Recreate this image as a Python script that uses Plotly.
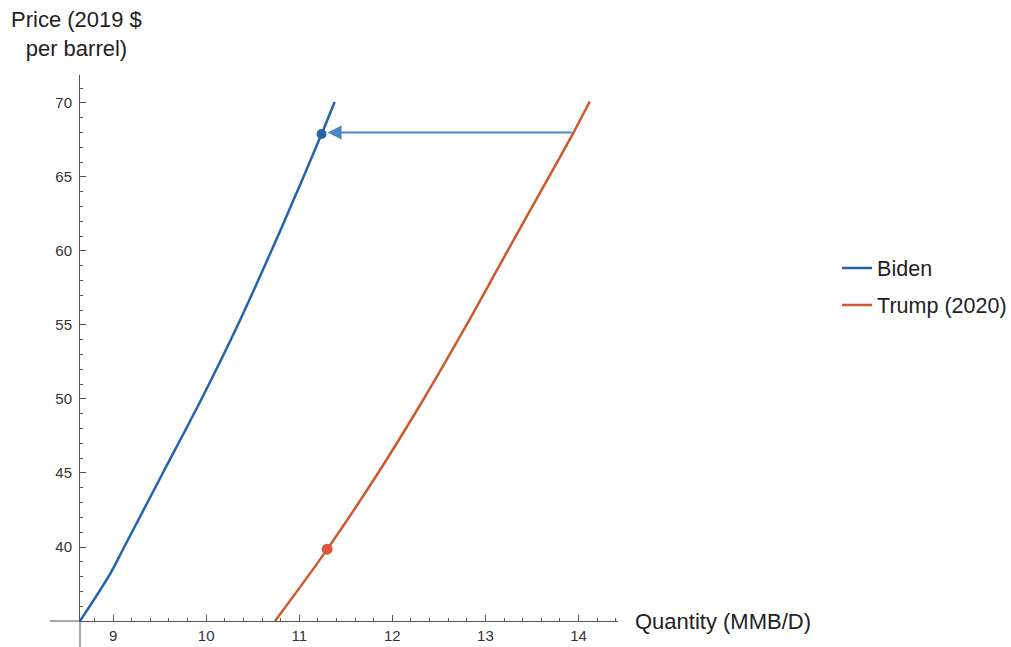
import plotly.graph_objects as go

# ---- data ----
biden_price = [35.0, 38.2, 40.0, 45.0, 50.0, 55.0, 60.0, 65.0, 67.9, 70.07]
biden_qty = [8.645, 8.97, 9.12, 9.535, 9.95, 10.34, 10.70, 11.045, 11.24, 11.38]

trump_price = [35.0, 39.84, 45.0, 50.0, 55.0, 60.0, 65.0, 68.0, 70.1]
trump_qty = [10.74, 11.30, 11.847, 12.337, 12.797, 13.237, 13.682, 13.946, 14.12]

biden_point = (11.24, 67.9)
trump_point = (11.30, 39.85)
arrow_start = (13.944, 68.0)
arrow_end = (11.24, 68.0)

x_ticks = [9, 10, 11, 12, 13, 14]
y_ticks = [40, 45, 50, 55, 60, 65, 70]

x_range = [8.645, 14.424]
y_range = [35.0, 71.89]

BLUE = "#2462ad"
ORANGE = "#cc5a2e"
FONT = "Liberation Sans, Arial, sans-serif"

fig = go.Figure()
fig.add_trace(go.Scatter(x=biden_qty, y=biden_price, mode="lines", name="Biden",
                         line=dict(color=BLUE, width=2.5, shape="spline", smoothing=1.0),
                         legendgroup="b"))
fig.add_trace(go.Scatter(x=trump_qty, y=trump_price, mode="lines", name="Trump (2020)",
                         line=dict(color=ORANGE, width=2.5, shape="spline", smoothing=1.0),
                         legendgroup="t"))
fig.add_trace(go.Scatter(x=[biden_point[0]], y=[biden_point[1]], mode="markers",
                         marker=dict(color="#2a62a8", size=10), showlegend=False))
fig.add_trace(go.Scatter(x=[trump_point[0]], y=[trump_point[1]], mode="markers",
                         marker=dict(color="#e0533d", size=11), showlegend=False))

fig.add_annotation(x=arrow_end[0], y=arrow_end[1], ax=arrow_start[0], ay=arrow_start[1],
                   xref="x", yref="y", axref="x", ayref="y", text="",
                   showarrow=True, arrowhead=2, arrowsize=1.4, arrowwidth=2,
                   arrowcolor="#4a86c5", standoff=6)

# axis titles
fig.add_annotation(text="Price (2019 $<br>per barrel)", xref="paper", yref="paper",
                   x=-0.0056, y=1.076, xanchor="center", yanchor="middle", showarrow=False,
                   font=dict(size=22, color="#222", family=FONT), align="center")
fig.add_annotation(text="Quantity (MMB/D)", xref="paper", yref="paper",
                   x=1.028, y=0.0, xanchor="left", yanchor="middle", showarrow=False,
                   font=dict(size=22, color="#222", family=FONT))

# axis extensions beyond origin
fig.add_shape(type="line", xref="paper", yref="paper", x0=-0.0558, x1=0, y0=0, y1=0,
              line=dict(color="#555", width=1))
fig.add_shape(type="line", xref="paper", yref="paper", x0=0, x1=0, y0=0, y1=-0.048,
              line=dict(color="#555", width=1))

axis_common = dict(showgrid=False, zeroline=False, showline=True, linecolor="#555",
                   linewidth=1, ticks="inside", ticklen=6, tickcolor="#555",
                   automargin=False,
                   tickfont=dict(size=15, color="#333", family=FONT))
fig.update_xaxes(range=x_range, tickvals=x_ticks, ticklabelstandoff=1,
                 minor=dict(dtick=0.2, tick0=0, ticks="inside", ticklen=3, tickcolor="#555"),
                 **axis_common)
fig.update_yaxes(range=y_range, tickvals=y_ticks, ticklabelstandoff=4,
                 minor=dict(dtick=1, tick0=0, ticks="inside", ticklen=3, tickcolor="#555"),
                 **axis_common)

fig.update_layout(
    width=1011, height=647,
    margin=dict(l=80, r=393, t=75, b=26, autoexpand=False),
    paper_bgcolor="white", plot_bgcolor="white",
    font=dict(family=FONT),
    legend=dict(xref="container", yref="container", x=0.828, y=0.5572,
                xanchor="left", yanchor="middle",
                font=dict(size=21.5, color="#222", family=FONT),
                traceorder="grouped", tracegroupgap=6, bgcolor="rgba(0,0,0,0)"),
)

fig.write_html("out.html", config={"displayModeBar": False},
               post_script="document.body.style.margin='0';")
